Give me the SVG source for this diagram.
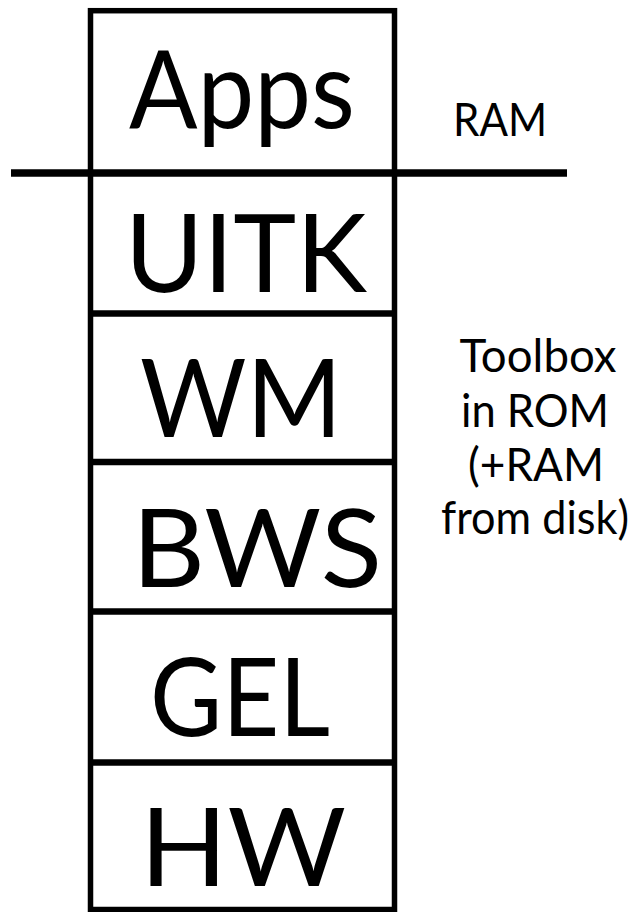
<svg xmlns="http://www.w3.org/2000/svg" width="642" height="912" viewBox="0 0 642 912">
  <style>
    .frame { fill: none; stroke: #000; stroke-width: 5.5; }
    .divider { stroke: #000; stroke-width: 6.5; }
    .boundary { stroke: #000; stroke-width: 7.5; }
    .layer { font-family: Lato, "Open Sans", "Liberation Sans", sans-serif; font-size: 108px; fill: #000; text-anchor: middle; }
    .note { font-family: Lato, "Open Sans", "Liberation Sans", sans-serif; font-size: 47px; fill: #000; text-anchor: middle; }
  </style>
  <rect width="642" height="912" fill="#fff"/>

  <!-- outer column of the layer stack -->
  <rect class="frame" x="90.5" y="10.7" width="304" height="898.8"/>

  <!-- separators between layers -->
  <g id="connectors">
    <line class="boundary" x1="11" y1="173" x2="567" y2="173"/>
    <line class="divider" x1="90.5" y1="313.5" x2="394.5" y2="313.5"/>
    <line class="divider" x1="90.5" y1="462" x2="394.5" y2="462"/>
    <line class="divider" x1="90.5" y1="611.5" x2="394.5" y2="611.5"/>
    <line class="divider" x1="90.5" y1="762.5" x2="394.5" y2="762.5"/>
  </g>

  <g id="apps"><text class="layer" x="242" y="128" textLength="226" lengthAdjust="spacingAndGlyphs">Apps</text></g>
  <g id="uitk"><text class="layer" x="246" y="292" textLength="242" lengthAdjust="spacingAndGlyphs">UITK</text></g>
  <g id="wm"><text class="layer" x="241" y="437" textLength="202" lengthAdjust="spacingAndGlyphs">WM</text></g>
  <g id="bws"><text class="layer" x="257" y="587" textLength="250" lengthAdjust="spacingAndGlyphs">BWS</text></g>
  <g id="gel"><text class="layer" x="240" y="736" textLength="180" lengthAdjust="spacingAndGlyphs">GEL</text></g>
  <g id="hw"><text class="layer" x="243" y="886" textLength="206" lengthAdjust="spacingAndGlyphs">HW</text></g>

  <g id="ram-label"><text class="note" x="500" y="136" textLength="94" lengthAdjust="spacingAndGlyphs">RAM</text></g>
  <g id="toolbox-label">
    <text class="note" x="538" y="372" textLength="157" lengthAdjust="spacingAndGlyphs">Toolbox</text>
    <text class="note" x="535" y="427" textLength="148" lengthAdjust="spacingAndGlyphs">in ROM</text>
    <text class="note" x="536" y="481" textLength="136" lengthAdjust="spacingAndGlyphs">(+RAM</text>
    <text class="note" x="535" y="534" font-size="44" textLength="188" lengthAdjust="spacingAndGlyphs">from disk)</text>
  </g>
</svg>
